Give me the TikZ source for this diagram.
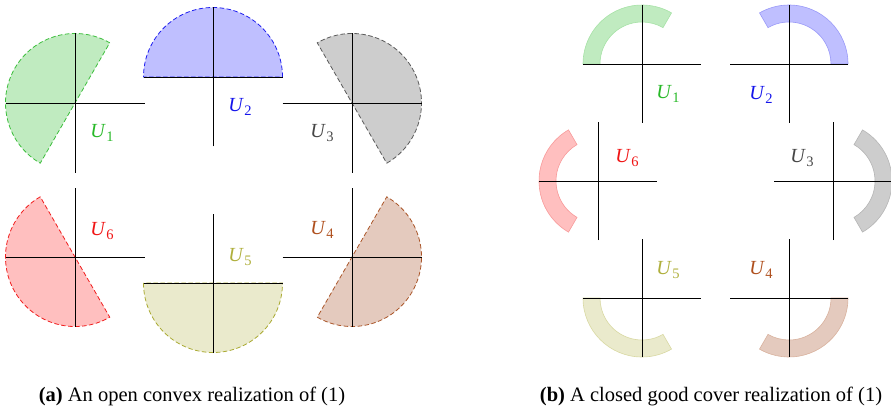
\documentclass[tikz,border=0pt]{standalone}
\usepackage{fontspec}
\setmainfont{Liberation Serif}
\definecolor{gF}{RGB}{192,235,192}\definecolor{gD}{RGB}{60,190,60}\definecolor{gL}{RGB}{40,185,40}
\definecolor{bF}{RGB}{191,191,255}\definecolor{bD}{RGB}{30,30,240}\definecolor{bL}{RGB}{20,20,235}
\definecolor{kF}{RGB}{205,205,205}\definecolor{kD}{RGB}{90,90,90}\definecolor{kL}{RGB}{70,70,70}
\definecolor{rF}{RGB}{255,191,191}\definecolor{rD}{RGB}{240,30,30}\definecolor{rL}{RGB}{240,20,20}
\definecolor{oF}{RGB}{234,234,204}\definecolor{oD}{RGB}{170,170,50}\definecolor{oL}{RGB}{175,175,60}
\definecolor{nF}{RGB}{228,202,190}\definecolor{nD}{RGB}{170,85,40}\definecolor{nL}{RGB}{175,80,30}
\newcommand{\ulab}[1]{\fontsize{20}{24}\selectfont\textit{U}\kern0.5pt\raisebox{-4.5pt}{\fontsize{14.5}{16}\selectfont #1}}
\newcommand{\halfdisk}[4]{% center, start angle, fill, draw
  \draw[hdisk, fill=#3, draw=#4] ([shift={(#2:69.5)}]#1) arc[start angle=#2, delta angle=180, radius=69.5] -- cycle;}
\newcommand{\annul}[5]{% center, start, end, fill, draw
  \draw[annu, fill=#4, draw=#5] ([shift={(#2:59)}]#1) arc[start angle=#2, end angle=#3, radius=59]
    -- ([shift={(#3:42)}]#1) arc[start angle=#3, end angle=#2, radius=42] -- cycle;}
\begin{document}
\begin{tikzpicture}[x=1pt,y=1pt,
  axis/.style={line width=0.8pt, black},
  hdisk/.style={line width=0.8pt, dash pattern=on 4.5pt off 2.5pt},
  annu/.style={line width=0.6pt},
  lab/.style={inner sep=0pt, anchor=center},
  capt/.style={inner sep=0pt, font=\fontsize{20.5}{24}\selectfont}]
\useasboundingbox (0,0) rectangle (891,413);
% ---------- (a) centers
\coordinate (A1) at (75,310);
\coordinate (A2) at (213,336);
\coordinate (A3) at (352,310);
\coordinate (A6) at (75,156);
\coordinate (A5) at (213,130);
\coordinate (A4) at (352,156);
\halfdisk{A1}{60}{gF}{gD}
\halfdisk{A2}{0}{bF}{bD}
\halfdisk{A3}{-60}{kF}{kD}
\halfdisk{A6}{120}{rF}{rD}
\halfdisk{A5}{180}{oF}{oD}
\halfdisk{A4}{-120}{nF}{nD}
\foreach \c in {A1,A2,A3,A4,A5,A6}{
  \draw[axis] (\c) ++(-69.5,0) -- ++(139,0);
  \draw[axis] (\c) ++(0,-69.5) -- ++(0,139);
}
\node[lab, text=gL] (la1) at ([shift={(27,-30)}]A1) {\ulab{1}};
\node[lab, text=bL] (la2) at ([shift={(27,-30)}]A2) {\ulab{2}};
\node[lab, text=kL] (la3) at ([shift={(-30,-30)}]A3) {\ulab{3}};
\node[lab, text=rL] (la6) at ([shift={(27,26)}]A6) {\ulab{6}};
\node[lab, text=oL] (la5) at ([shift={(27,26)}]A5) {\ulab{5}};
\node[lab, text=nL] (la4) at ([shift={(-30,27)}]A4) {\ulab{4}};
% ---------- (b) centers
\coordinate (B1) at (642,349);
\coordinate (B2) at (789,349);
\coordinate (B6) at (598,232);
\coordinate (B3) at (833,232);
\coordinate (B5) at (642,115);
\coordinate (B4) at (789,115);
\annul{B1}{60}{180}{gF}{gD!45}
\annul{B2}{0}{120}{bF}{bD!45}
\annul{B6}{120}{240}{rF}{rD!45}
\annul{B3}{-60}{60}{kF}{kD!45}
\annul{B5}{180}{300}{oF}{oD!45}
\annul{B4}{240}{360}{nF}{nD!45}
\foreach \c in {B1,B2,B3,B4,B5,B6}{
  \draw[axis] (\c) ++(-59,0) -- ++(118,0);
  \draw[axis] (\c) ++(0,-59) -- ++(0,118);
}
\node[lab, text=gL] (lb1) at ([shift={(26,-30)}]B1) {\ulab{1}};
\node[lab, text=bL] (lb2) at ([shift={(-28,-31)}]B2) {\ulab{2}};
\node[lab, text=rL] (lb6) at ([shift={(29,23)}]B6) {\ulab{6}};
\node[lab, text=kL] (lb3) at ([shift={(-31,23)}]B3) {\ulab{3}};
\node[lab, text=oL] (lb5) at ([shift={(26,28)}]B5) {\ulab{5}};
\node[lab, text=nL] (lb4) at ([shift={(-28,28)}]B4) {\ulab{4}};
% ---------- captions
\node[capt] (capa) at (192,17) {\textbf{(a)} An open convex realization of (1)};
\node[capt] (capb) at (711,17) {\textbf{(b)} A closed good cover realization of (1)};
\end{tikzpicture}
\end{document}
